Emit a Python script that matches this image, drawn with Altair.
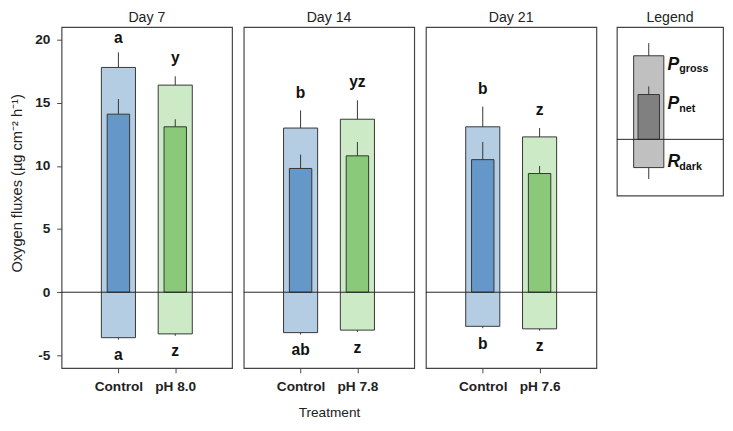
import altair as alt
import pandas as pd

# ---- data ----
days = ["Day 7", "Day 14", "Day 21"]
day_of = ["Day 7", "Day 7", "Day 14", "Day 14", "Day 21", "Day 21"]
treatments = ["Control", "pH 8.0", "Control", "pH 7.8", "Control", "pH 7.6"]
groups = ["Control", "Acidified", "Control", "Acidified", "Control", "Acidified"]
p_gross = [17.8, 16.4, 13.0, 13.7, 13.1, 12.3]
p_gross_err = [1.2, 0.7, 1.4, 1.5, 1.6, 0.7]
p_net = [14.1, 13.1, 9.8, 10.8, 10.5, 9.4]
p_net_err = [1.2, 0.6, 1.1, 1.1, 1.4, 0.6]
r_dark = [-3.6, -3.3, -3.2, -3.0, -2.7, -2.9]
r_dark_err = [0.15, 0.15, 0.15, 0.15, 0.15, 0.15]
top_letters = ["a", "y", "b", "yz", "b", "z"]
bottom_letters = ["a", "z", "ab", "z", "b", "z"]

# legend schematic values
leg_gross = [6.6]
leg_gross_err = [1.0]
leg_net = [3.54]
leg_net_err = [0.64]
leg_rdark = [-2.23]
leg_rdark_err = [0.9]
leg_main = ["P", "P", "R"]
leg_sub = ["gross", "net", "dark"]
leg_label_y = [5.9, 2.8, -1.8]

df = pd.DataFrame({
    "day": day_of, "treatment": treatments, "group": groups,
    "gross": p_gross, "gross_err": p_gross_err,
    "net": p_net, "net_err": p_net_err,
    "rdark": r_dark, "rdark_err": r_dark_err,
    "top_letter": top_letters, "bottom_letter": bottom_letters,
})
df["gross_top"] = df["gross"] + df["gross_err"]
df["net_top"] = df["net"] + df["net_err"]
df["rdark_bot"] = df["rdark"] - df["rdark_err"]
df["top_y"] = (df["gross_top"] + 1.4).clip(upper=20.1)
df["bot_y"] = df["rdark_bot"] - 1.25

FONT = "Liberation Sans"
EDGE = "#333333"
YTITLE = "Oxygen fluxes (\u00b5g cm\u207b\u00b2 h\u207b\u00b9)"
light_range = ["#b4cde3", "#cdeac6"]
dark_range = ["#6598c9", "#8bc97a"]
ydom = [-6, 21]
PW, PH = 175, 350


def panel(day, first, mid):
    d = df[df["day"] == day]
    base = alt.Chart(d)
    xaxis = alt.Axis(
        title="Treatment" if mid else None, labelAngle=0, labelFontWeight="bold",
        labelFontSize=14, labelColor="#222", tickSize=5, tickColor="#444",
        domain=False, labelPadding=7, titlePadding=13, titleFontSize=14,
        titleFontWeight="normal", titleColor="#222", grid=False,
    )
    x = alt.X("treatment:N", sort=None, scale=alt.Scale(type="point", padding=1), axis=xaxis)
    xs = alt.X("treatment:N", sort=None)
    yscale = alt.Scale(domain=ydom, nice=False, zero=False)
    if first:
        yaxis = alt.Axis(values=[-5, 0, 5, 10, 15, 20], labelExpr="datum.value + ''",
                         labelFontWeight="bold",
                         labelFontSize=14, labelColor="#222", tickSize=5,
                         tickColor="#444", domain=False, grid=False,
                         labelPadding=7, titlePadding=11, titleFontSize=15,
                         titleFontWeight="normal", titleColor="#222", titleY=160)
        title = YTITLE
    else:
        yaxis = None
        title = ""

    def Y(f):
        return alt.Y(f, scale=yscale, axis=yaxis, title=title)

    light = base.mark_bar(size=35, stroke=EDGE, strokeWidth=1).encode(
        x=x, y=Y("rdark:Q"), y2="gross:Q",
        color=alt.Color("group:N", scale=alt.Scale(domain=["Control", "Acidified"], range=light_range), legend=None),
    )
    gerr = base.mark_rule(color=EDGE, strokeWidth=1).encode(x=xs, y=Y("gross:Q"), y2="gross_top:Q")
    rerr = base.mark_rule(color=EDGE, strokeWidth=1).encode(x=xs, y=Y("rdark:Q"), y2="rdark_bot:Q")
    net = base.mark_bar(size=23, stroke=EDGE, strokeWidth=1).encode(
        x=xs, y=Y("net:Q"), y2=alt.datum(0),
        fill=alt.Fill("group:N", scale=alt.Scale(domain=["Control", "Acidified"], range=dark_range), legend=None),
    )
    nerr = base.mark_rule(color=EDGE, strokeWidth=1).encode(x=xs, y=Y("net:Q"), y2="net_top:Q")
    zero = alt.Chart(pd.DataFrame({"v": [0]})).mark_rule(color="#222", strokeWidth=1).encode(y=Y("v:Q"))
    ttop = base.mark_text(fontSize=16, fontWeight="bold", baseline="middle", color="#111").encode(
        x=xs, y=Y("top_y:Q"), text="top_letter:N")
    tbot = base.mark_text(fontSize=16, fontWeight="bold", baseline="middle", color="#111").encode(
        x=xs, y=Y("bot_y:Q"), text="bottom_letter:N")
    return alt.layer(light, gerr, rerr, net, nerr, zero, ttop, tbot).resolve_scale(
        color="independent", fill="independent"
    ).properties(
        width=PW, height=PH,
        title=alt.TitleParams(day, fontSize=14.5, fontWeight="normal", offset=2, color="#222"),
    )


p1 = panel("Day 7", True, False)
p2 = panel("Day 14", False, True)
p3 = panel("Day 21", False, False)

# ---- legend panel ----
ldf = pd.DataFrame({
    "pos": [2.8], "gross": leg_gross, "net": leg_net, "rdark": leg_rdark,
})
ldf["gross_top"] = ldf["gross"] + pd.Series(leg_gross_err)
ldf["net_top"] = ldf["net"] + pd.Series(leg_net_err)
ldf["rdark_bot"] = ldf["rdark"] - pd.Series(leg_rdark_err)
tdf = pd.DataFrame({"pos": [4.75] * 3, "main": leg_main, "sub": leg_sub, "y": leg_label_y})

lx = alt.Scale(domain=[0, 10], nice=False, zero=False)
ly = alt.Scale(domain=[-4.44, 8.87], nice=False, zero=False)
LX = lambda f: alt.X(f, scale=lx, axis=None)
LY = lambda f: alt.Y(f, scale=ly, axis=None)
lb = alt.Chart(ldf)
l_light = lb.mark_bar(size=31, stroke=EDGE, strokeWidth=1, color="#c0c0c0").encode(
    x=LX("pos:Q"), y=LY("rdark:Q"), y2="gross:Q")
l_gerr = lb.mark_rule(color=EDGE).encode(x=LX("pos:Q"), y=LY("gross:Q"), y2="gross_top:Q")
l_rerr = lb.mark_rule(color=EDGE).encode(x=LX("pos:Q"), y=LY("rdark:Q"), y2="rdark_bot:Q")
l_net = lb.mark_bar(size=22, stroke=EDGE, strokeWidth=1, color="#808080").encode(
    x=LX("pos:Q"), y=LY("net:Q"), y2=alt.datum(0))
l_nerr = lb.mark_rule(color=EDGE).encode(x=LX("pos:Q"), y=LY("net:Q"), y2="net_top:Q")
l_zero = alt.Chart(pd.DataFrame({"v": [0]})).mark_rule(color="#222").encode(y=LY("v:Q"))
tb = alt.Chart(tdf)
l_main = tb.mark_text(align="left", baseline="middle", fontSize=18, fontWeight="bold",
                      fontStyle="italic", color="#111").encode(x=LX("pos:Q"), y=LY("y:Q"), text="main:N")
l_sub = tb.mark_text(align="left", baseline="middle", fontSize=11, fontWeight="bold",
                     color="#111", dx=12, dy=5).encode(x=LX("pos:Q"), y=LY("y:Q"), text="sub:N")
legend_panel = alt.layer(l_light, l_gerr, l_rerr, l_net, l_nerr, l_zero, l_main, l_sub).properties(
    width=109, height=173,
    title=alt.TitleParams("Legend", fontSize=14.5, fontWeight="normal", offset=2, color="#222"),
)

inner = alt.hconcat(p1, p2, p3, spacing=8)
chart = alt.hconcat(inner, legend_panel, spacing=17).properties(
    padding={"left": 0, "top": -5, "right": 0, "bottom": 0}
).configure(font=FONT).configure_view(stroke="#444", strokeWidth=1.2).configure_title(font=FONT)

chart.save("out.html", embed_options={"renderer": "svg", "actions": False})
